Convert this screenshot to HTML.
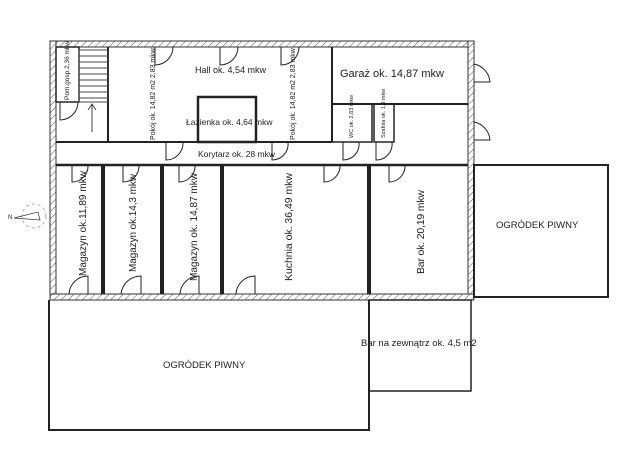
<!DOCTYPE html>
<html><head><meta charset="utf-8"><style>
html,body{margin:0;padding:0;background:#fff;}
svg{display:block;}
text{font-family:"Liberation Sans",sans-serif;fill:#222;}
</style></head><body>
<svg width="635" height="449" viewBox="0 0 635 449" xmlns="http://www.w3.org/2000/svg">
<defs>
<pattern id="h" width="5" height="5" patternUnits="userSpaceOnUse" patternTransform="rotate(45)">
<rect width="5" height="5" fill="#fff"/><line x1="0" y1="0" x2="0" y2="5" stroke="#555" stroke-width="1"/>
</pattern>
</defs>
<rect x="50" y="41" width="424" height="6" fill="url(#h)" stroke="#333" stroke-width="1"/>
<rect x="50" y="41" width="6" height="259" fill="url(#h)" stroke="#333" stroke-width="1"/>
<rect x="468" y="41" width="6" height="259" fill="url(#h)" stroke="#333" stroke-width="1"/>
<rect x="50" y="294" width="424" height="6" fill="url(#h)" stroke="#333" stroke-width="1"/>
<g fill="none" stroke="#222" stroke-width="2">
<rect x="56" y="47" width="23" height="55" stroke-width="1.5"/>
<path d="M108 47 V142 H332"/>
<rect x="198" y="97" width="58" height="45" stroke-width="2.5"/>
<path d="M332 47 V142"/>
<path d="M332 104 H468"/>
<rect x="332" y="104" width="40" height="38" stroke-width="1.5"/>
<rect x="374" y="104" width="20" height="38" stroke-width="1.5"/>
<path d="M56 142 H108"/>
<path d="M56 165 H468" stroke-width="2.5"/>
<path d="M102 165 V294 M104 165 V294 M161 165 V294 M163 165 V294 M221 165 V294 M223 165 V294 M368 165 V294 M370 165 V294"/>
<rect x="474" y="165" width="134" height="132"/>
<path d="M49 300 V430 H369 V300"/>
<rect x="369" y="300" width="102" height="91" stroke-width="1.5"/>
</g>
<g stroke="#444" stroke-width="1" fill="none">
<rect x="79" y="50" width="29" height="52"/>
<path d="M79 56H108M79 62H108M79 68H108M79 74H108M79 80H108M79 86H108M79 92H108M79 98H108"/>
<path d="M92 132V104M88 110L92 104L96 110"/>
</g>
<g stroke="#222" stroke-width="1" fill="none">
<path d="M155 47V65A18 18 0 0 0 173 47"/>
<path d="M220 47V65A18 18 0 0 0 238 47"/>
<path d="M281 47V65A18 18 0 0 0 299 47"/>
<path d="M60 102V120A18 18 0 0 0 78 102"/>
<path d="M166 142V160A17 17 0 0 0 183 142"/>
<path d="M272 142V160A16 16 0 0 0 288 142"/>
<path d="M343 142V160A16 16 0 0 0 359 142"/>
<path d="M376 142V160A16 16 0 0 0 392 142"/>
<path d="M72 165V182A16 16 0 0 0 88 165"/>
<path d="M123 165V182A16 16 0 0 0 139 165"/>
<path d="M179 165V182A16 16 0 0 0 195 165"/>
<path d="M324 165V182A16 16 0 0 0 340 165"/>
<path d="M389 165V182A16 16 0 0 0 405 165"/>
<path d="M88 294V276A19 19 0 0 0 69 294"/>
<path d="M141 294V276A20 20 0 0 0 121 294"/>
<path d="M199 294V276A19 19 0 0 0 180 294"/>
<path d="M255 294V276A19 19 0 0 0 236 294"/>
<path d="M474 64A20 20 0 0 1 490 82H474"/>
<path d="M474 122A20 20 0 0 1 490 140H474"/>
</g>
<g stroke="#888" stroke-width="0.7" fill="none">
<circle cx="34" cy="216" r="12" stroke-dasharray="3 3"/>
<path d="M14 218L38 212L40 220Z" stroke="#333"/>
</g>
<text x="8" y="219" font-size="6">N</text>
<text x="195" y="73" font-size="9">Hall  ok. 4,54 mkw</text>
<text x="186" y="125" font-size="8.5">Łazienka ok. 4,64 mkw</text>
<text x="198" y="157" font-size="8.5">Korytarz ok. 28 mkw</text>
<text x="340" y="77" font-size="11">Garaż ok. 14,87 mkw</text>
<text x="496" y="228" font-size="9.5">OGRÓDEK PIWNY</text>
<text x="163" y="368" font-size="9.5">OGRÓDEK PIWNY</text>
<text x="361" y="346" font-size="9.5">Bar na zewnątrz ok. 4,5 m2</text>
<text font-size="6.5" transform="translate(69,100) rotate(-90)">Pom.gosp.2,36 mkw</text>
<text font-size="7" transform="translate(155,140) rotate(-90)">Pokój ok. 14,82 m2 2,83 mkw</text>
<text font-size="7" transform="translate(295,140) rotate(-90)">Pokój ok. 14,82 m2 2,83 mkw</text>
<text font-size="5.5" transform="translate(353,138) rotate(-90)">WC ok. 2,83 mkw</text>
<text font-size="5.5" transform="translate(385,138) rotate(-90)">Szafnia ok. 1,3 mkw</text>
<text font-size="10" textLength="105" transform="translate(86,276) rotate(-90)">Magazyn ok.11,89 mkw</text>
<text font-size="10" textLength="98" transform="translate(136,272) rotate(-90)">Magazyn ok.14,3 mkw</text>
<text font-size="10" textLength="108" transform="translate(197,281) rotate(-90)">Magazyn ok. 14,87 mkw</text>
<text font-size="10.5" textLength="108" transform="translate(292,281) rotate(-90)">Kuchnia ok. 36,49 mkw</text>
<text font-size="10.5" textLength="84" transform="translate(424,274) rotate(-90)">Bar ok. 20,19 mkw</text>
</svg>
</body></html>
